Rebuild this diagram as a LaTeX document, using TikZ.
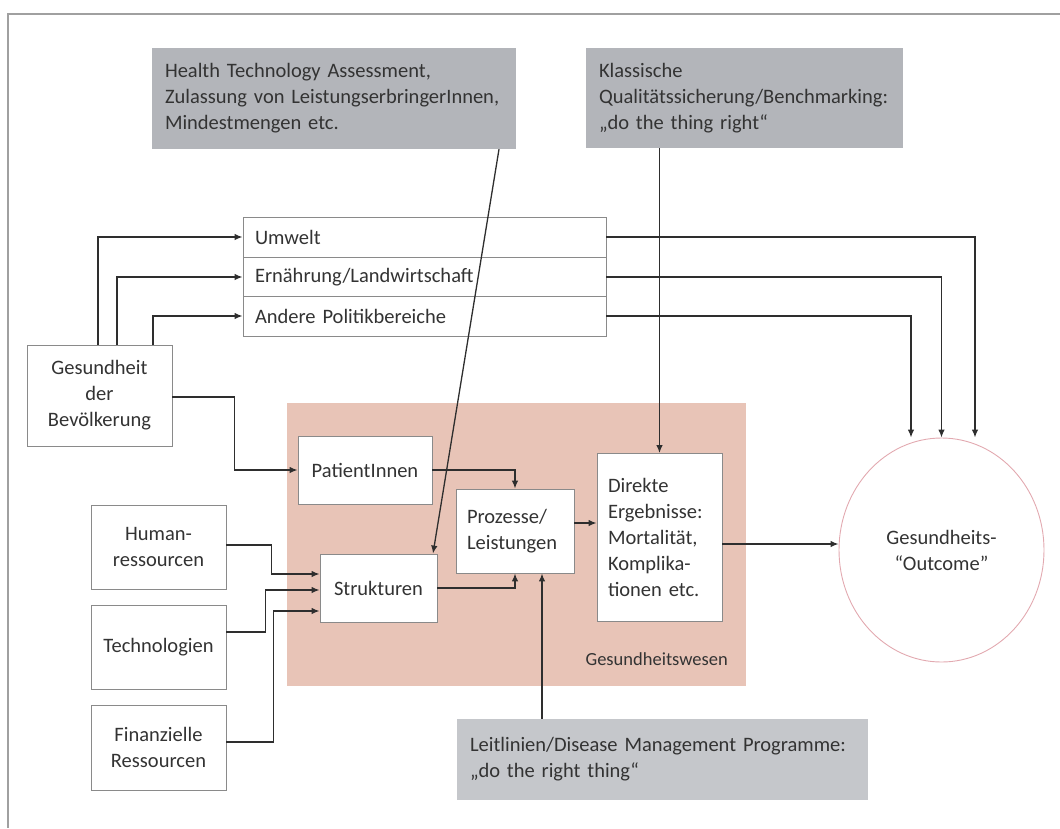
\documentclass[tikz,border=0pt]{standalone}
\usepackage{fontspec}
\setmainfont{Carlito}
\usetikzlibrary{arrows.meta,shapes.geometric}
\definecolor{framegrey}{HTML}{A0A0A0}
\definecolor{boxline}{HTML}{8A8A8A}
\definecolor{notegrey}{HTML}{B3B5BA}
\definecolor{leitgrey}{HTML}{C5C7CB}
\definecolor{wesenpink}{HTML}{E8C4B7}
\definecolor{ringred}{HTML}{E2A9B0}
\definecolor{arrcol}{HTML}{2E2E2E}
\definecolor{txt}{HTML}{333333}
\tikzset{
  base/.style={inner sep=0pt, text=txt, font=\fontsize{20.5}{26}\selectfont},
  box/.style={base, draw=boxline, line width=0.9pt, fill=white, align=center},
  row/.style={box, align=left, inner xsep=12pt, text width=339pt, minimum height=40pt},
  note/.style={base, fill=notegrey, align=left, inner xsep=13pt},
  ring/.style={base, ellipse, draw=ringred, line width=0.9pt, minimum width=205pt, minimum height=224pt, align=center},
  arr/.style={color=arrcol, line width=1.3pt, -{Latex[length=8pt,width=6.5pt]}}
}
\begin{document}
\begin{tikzpicture}[x=1pt,y=-1pt]
  \useasboundingbox (0,0) rectangle (1060,828);
  \draw[framegrey, line width=1.2pt] (1060,14) -- (8,14) -- (8,828);
  \fill[wesenpink] (287,403) rectangle (746,686);
  \node[base, font=\fontsize{18.5}{22}\selectfont, anchor=base east] (wesen) at (728,665) {Gesundheitswesen};

  \node[note, text width=338pt, minimum height=101pt] (hta) at (334,98.5) {Health Technology Assessment,\\Zulassung von LeistungserbringerInnen,\\Mindestmengen etc.};
  \node[note, text width=291pt, minimum height=100pt] (klass) at (744.5,98) {Klassische\\Qualitätssicherung/Benchmarking:\\„do the thing right“};
  \node[note, fill=leitgrey, text width=385pt, minimum height=81pt] (leit) at (662.5,759.5) {Leitlinien/Disease Management Programme:\\„do the right thing“};

  \node[row] (umwelt) at (424.5,237) {Umwelt};
  \node[row] (ernaehrung) at (424.5,277) {Ernährung/Landwirtschaft};
  \node[row] (andere) at (424.5,316) {Andere Politikbereiche};

  \node[box, minimum width=145pt, minimum height=101pt] (gesund) at (99.5,395.5) {Gesundheit\\der\\Bevölkerung};
  \node[box, minimum width=134pt, minimum height=68pt] (patient) at (365,470) {PatientInnen};
  \node[box, minimum width=117pt, minimum height=68pt] (struktur) at (378.5,588) {Strukturen};
  \node[box, align=left, inner xsep=11pt, text width=96pt, minimum height=84pt] (prozess) at (515,531) {Prozesse/\\Leistungen};
  \node[box, align=left, inner xsep=11pt, text width=103pt, minimum height=168pt] (direkt) at (659.5,537.5) {Direkte\\Ergebnisse:\\Mortalität,\\Komplika-\\tionen etc.};
  \node[box, minimum width=135pt, minimum height=84pt] (human) at (158.5,547) {Human-\\ressourcen};
  \node[box, minimum width=135pt, minimum height=84pt] (techno) at (158.5,647) {Technologien};
  \node[box, minimum width=135pt, minimum height=85pt] (finanz) at (158.5,747.5) {Finanzielle\\Ressourcen};
  \node[ring] (outcome) at (941.5,550) {Gesundheits-\\“Outcome”};

  \coordinate (pin) at ([xshift=27pt]prozess.south);
  \begin{scope}[arr]
    \draw ([xshift=-1.5pt]gesund.north) |- (umwelt.west);
    \draw ([xshift=17.5pt]gesund.north) |- (ernaehrung.west);
    \draw ([xshift=53.5pt]gesund.north) |- (andere.west);
    \draw (umwelt.east) -| ([xshift=33.5pt]outcome.north);
    \draw (ernaehrung.east) -| (outcome.north);
    \draw (andere.east) -| ([xshift=-30.5pt]outcome.north);
    \draw ([yshift=-1.5pt]gesund.east) -- ++(62,0) |- (patient.west);
    \draw (patient.east) -| (prozess.north);
    \draw (struktur.east) -| (prozess.south);
    \draw ([yshift=8pt]prozess.east) -- ([yshift=14.5pt]direkt.west);
    \draw ([yshift=-6.5pt]direkt.east) -- ([yshift=6pt]outcome.west);
    \draw ([yshift=2pt]human.east) -- ++(45,0) |- ([yshift=14pt]struktur.west);
    \draw ([yshift=15pt]techno.east) -- ++(39,0) |- ([yshift=-2pt]struktur.west);
    \draw ([yshift=5.5pt]finanz.east) -- ++(47,0) |- ([yshift=-23pt]struktur.west);
    \draw ([xshift=165pt]hta.south) -- ([xshift=54.5pt]struktur.north);
    \draw (klass.south -| direkt.north) -- (direkt.north);
    \draw (leit.north -| pin) -- (pin);
  \end{scope}
\end{tikzpicture}
\end{document}
